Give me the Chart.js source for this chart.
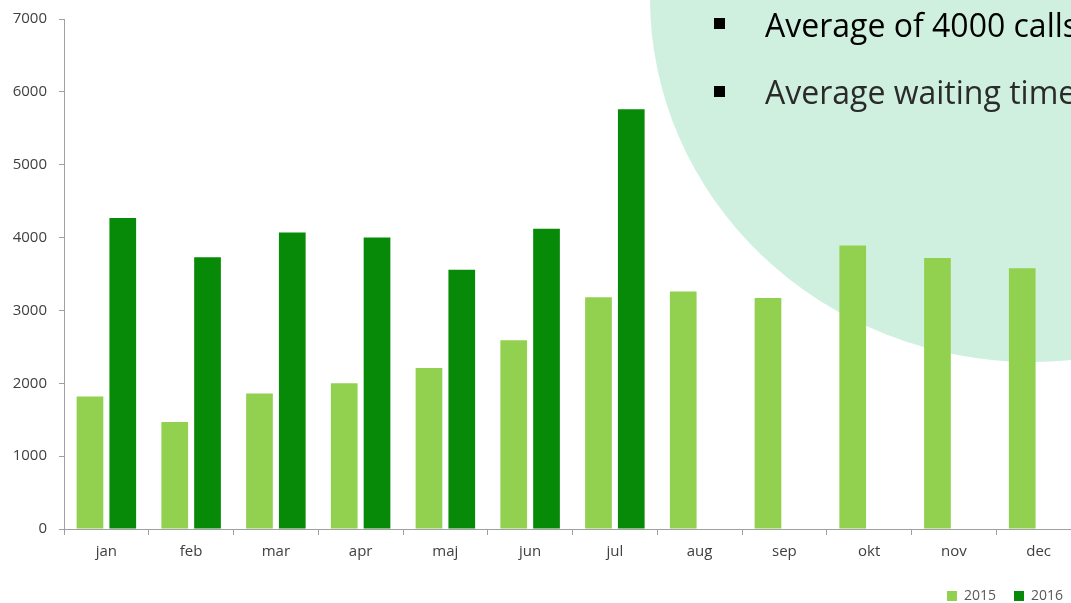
<!DOCTYPE html>
<html>
<head>
<meta charset="utf-8">
<script src="https://cdn.jsdelivr.net/npm/chart.js@4.4.0/dist/chart.umd.min.js"></script>
<style>
  html, body { margin:0; padding:0; background:#fff; overflow:hidden; }
  #stage { position:relative; width:1071px; height:603px; overflow:hidden; }
  #blob { position:absolute; left:650px; top:-366px; width:764px; height:728px; border-radius:50%; background:#d0f0df; }
  #chart { position:absolute; left:0; top:0; }
  .line { position:absolute; left:765px; font-family:"Open Sans", sans-serif; font-size:32px; line-height:32px; white-space:nowrap; }
  .sq { position:absolute; left:714px; width:11px; height:11px; background:#000; }
</style>
</head>
<body>
<div id="stage">
  <div id="blob"></div>
  <canvas id="chart" width="1081" height="613"></canvas>
  <div class="sq" style="top:18px"></div>
  <div class="line" style="top:9px;color:#000">Average of 4000 calls</div>
  <div class="sq" style="top:86px"></div>
  <div class="line" style="top:76px;color:#2a2a2a">Average waiting time</div>
</div>
<script>
const months = ['jan', 'feb', 'mar', 'apr', 'maj', 'jun', 'jul', 'aug', 'sep', 'okt', 'nov', 'dec'];
const calls2015 = [1820, 1470, 1860, 2000, 2210, 2590, 3180, 3260, 3170, 3890, 3720, 3580];
const calls2016 = [4270, 3730, 4070, 4000, 3560, 4120, 5760, null, null, null, null, null];
const yMax = 7000;
const yStep = 1000;

Chart.defaults.font.family = '"Open Sans", sans-serif';

const ctx = document.getElementById('chart').getContext('2d');
new Chart(ctx, {
  type: 'bar',
  data: {
    labels: months,
    datasets: [
      { label: '2015', data: calls2015, backgroundColor: '#92d050', categoryPercentage: 0.774, barPercentage: 0.814 },
      { label: '2016', data: calls2016, backgroundColor: '#078a07', categoryPercentage: 0.774, barPercentage: 0.814 }
    ]
  },
  options: {
    responsive: false,
    animation: false,
    layout: { padding: { top: 19, left: 0, right: 0, bottom: 0 } },
    plugins: {
      tooltip: { enabled: false },
      legend: {
        position: 'bottom',
        align: 'end',
        labels: { boxWidth: 10, boxHeight: 10, padding: 18, color: '#595959', font: { size: 14 } }
      }
    },
    scales: {
      x: {
        grid: { drawOnChartArea: false, tickLength: 6, color: '#a0a0a0' },
        border: { color: '#a0a0a0' },
        ticks: { color: '#404040', font: { size: 15 }, padding: 8 },
        afterFit: s => { s.height = 42; }
      },
      y: {
        min: 0, max: yMax,
        grid: { drawOnChartArea: false, tickLength: 5, color: '#a0a0a0' },
        border: { color: '#a0a0a0' },
        ticks: { stepSize: yStep, color: '#404040', font: { size: 15 }, padding: 12, callback: v => String(v) },
        afterFit: s => { s.width = 64; s.paddingTop = 9; s.paddingBottom = 9; }
      }
    }
  }
});
</script>
</body>
</html>
